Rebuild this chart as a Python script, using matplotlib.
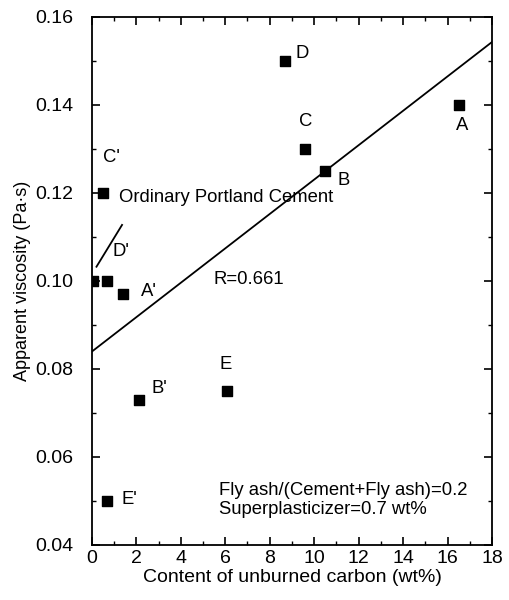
import matplotlib
matplotlib.use("Agg")
import numpy as np
from matplotlib import pyplot as plt
from matplotlib.ticker import MultipleLocator, FormatStrFormatter

plt.rcParams['font.family'] = ['Liberation Sans', 'DejaVu Sans']

# measured points (content of unburned carbon, apparent viscosity)
LABELS = ["A", "B", "C", "D", "E", "C'", "", "", "A'", "B'", "E'"]
CARBON = [16.5, 10.5, 9.6, 8.7, 6.1, 0.5, 0.05, 0.7, 1.4, 2.1, 0.7]
VISCOSITY = [0.140, 0.125, 0.130, 0.150, 0.075, 0.120, 0.100, 0.100, 0.097, 0.073, 0.050]

# label positions for the points (data units)
LABEL_POS = {
    "A": (16.65, 0.1352), "B": (11.3, 0.1229), "C": (9.6, 0.1362), "D": (9.45, 0.1517),
    "E": (6.0, 0.0810), "C'": (0.9, 0.1280), "A'": (2.55, 0.0975), "B'": (3.05, 0.0756),
    "E'": (1.7, 0.0503),
}

# regression line end points and D' pointer
FIT_X = [0, 18]
FIT_Y = [0.0839, 0.1543]
DP_X = [0.21, 1.36]
DP_Y = [0.1032, 0.1127]

fig = plt.figure(figsize=(5.1, 6.0), dpi=100)
ax = fig.add_axes([0.18, 0.092, 0.785, 0.88])

ax.scatter(CARBON, VISCOSITY, marker='s', s=55, color='black', zorder=3)
ax.plot(FIT_X, FIT_Y, color='black', lw=1.3)
ax.plot(DP_X, DP_Y, color='black', lw=1.3)

fs = 13.3
for name, (tx, ty) in LABEL_POS.items():
    ax.text(tx, ty, name, fontsize=fs, ha='center', va='center')

ax.text(1.22, 0.119, "Ordinary Portland Cement", fontsize=fs, va='center')
ax.text(0.95, 0.1067, "D'", fontsize=fs, va='center')
ax.text(5.45, 0.1003, "R=0.661", fontsize=fs, va='center')
ax.text(5.7, 0.0524, "Fly ash/(Cement+Fly ash)=0.2", fontsize=fs, va='center')
ax.text(5.7, 0.0481, "Superplasticizer=0.7 wt%", fontsize=fs, va='center')

ax.set_xlim(0, 18)
ax.set_ylim(0.04, 0.16)
ax.xaxis.set_major_locator(MultipleLocator(2))
ax.xaxis.set_minor_locator(MultipleLocator(1))
ax.yaxis.set_major_locator(MultipleLocator(0.02))
ax.yaxis.set_minor_locator(MultipleLocator(0.01))
ax.yaxis.set_major_formatter(FormatStrFormatter('%.2f'))
ax.tick_params(which='both', direction='in', top=True, right=True, labelsize=14)
ax.tick_params(which='major', length=6, width=1.2)
ax.tick_params(which='minor', length=3, width=1)
ax.tick_params(axis='y', which='major', pad=13)
for s in ax.spines.values():
    s.set_linewidth(1.3)

ax.set_xlabel("Content of unburned carbon (wt%)", fontsize=14, labelpad=2)
ax.set_ylabel("Apparent viscosity (Pa·s)", fontsize=13, labelpad=3)

fig.savefig("out.png", dpi=100)
